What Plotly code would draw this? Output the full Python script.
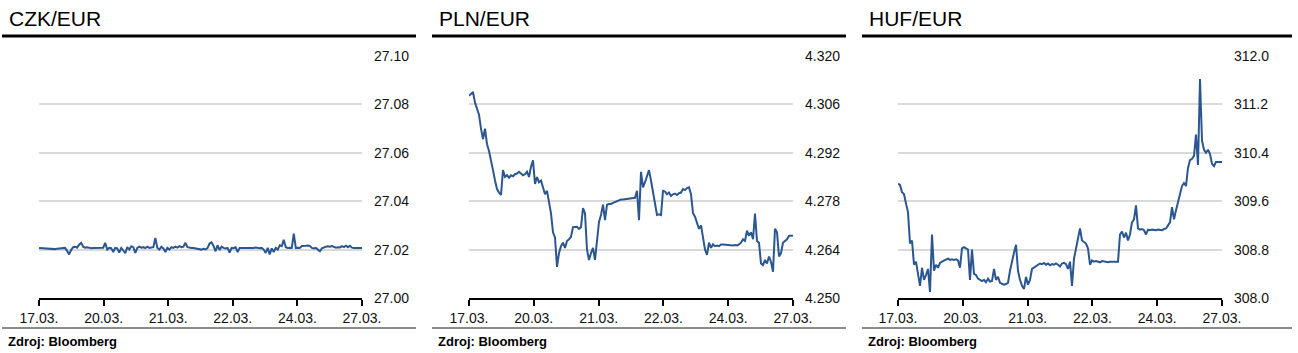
import plotly.graph_objects as go

FONT = "Liberation Sans, Arial, sans-serif"
LINE_COLOR = "#2b5790"

titles = ["CZK/EUR", "PLN/EUR", "HUF/EUR"]
source_text = "Zdroj: Bloomberg"
x_tick_labels = ["17.03.", "20.03.", "21.03.", "22.03.", "24.03.", "27.03."]

czk_values = [
    27.0207, 27.0206, 27.0205, 27.0204, 27.0203, 27.0202, 27.0201, 27.0203, 27.0202, 27.0204,
    27.0205, 27.0206, 27.0207, 27.0207, 27.0195, 27.0180, 27.0198, 27.0210, 27.0212, 27.0208,
    27.0220, 27.0228, 27.0212, 27.0208, 27.0210, 27.0207, 27.0206, 27.0207, 27.0207, 27.0207,
    27.0206, 27.0207, 27.0208, 27.0228, 27.0200, 27.0207, 27.0206, 27.0190, 27.0207, 27.0205,
    27.0188, 27.0207, 27.0195, 27.0185, 27.0210, 27.0200, 27.0214, 27.0210, 27.0186, 27.0207,
    27.0212, 27.0208, 27.0210, 27.0206, 27.0212, 27.0207, 27.0209, 27.0210, 27.0248, 27.0207,
    27.0200, 27.0212, 27.0205, 27.0190, 27.0207, 27.0200, 27.0210, 27.0207, 27.0212, 27.0208,
    27.0214, 27.0210, 27.0212, 27.0228, 27.0210, 27.0207, 27.0207, 27.0207, 27.0206, 27.0204,
    27.0202, 27.0200, 27.0203, 27.0201, 27.0206, 27.0225, 27.0230, 27.0215, 27.0193, 27.0218,
    27.0198, 27.0212, 27.0207, 27.0205, 27.0207, 27.0188, 27.0207, 27.0206, 27.0210, 27.0190,
    27.0207, 27.0207, 27.0208, 27.0206, 27.0207, 27.0207, 27.0205, 27.0207, 27.0209, 27.0207,
    27.0206, 27.0207, 27.0200, 27.0186, 27.0207, 27.0180, 27.0205, 27.0190, 27.0207, 27.0200,
    27.0218, 27.0214, 27.0241, 27.0210, 27.0207, 27.0208, 27.0207, 27.0266, 27.0207, 27.0208,
    27.0207, 27.0215, 27.0217, 27.0216, 27.0217, 27.0215, 27.0207, 27.0205, 27.0207, 27.0200,
    27.0193, 27.0205, 27.0210, 27.0212, 27.0214, 27.0212, 27.0215, 27.0210, 27.0208, 27.0210,
    27.0209, 27.0214, 27.0210, 27.0216, 27.0210, 27.0216, 27.0208, 27.0207, 27.0207, 27.0207,
    27.0207, 27.0207,
]

pln_values = [
    4.3085, 4.3090, 4.3096, 4.3065, 4.3050, 4.3030, 4.2990, 4.2960, 4.2990, 4.2945,
    4.2925, 4.2900, 4.2870, 4.2840, 4.2815, 4.2805, 4.2798, 4.2870, 4.2850, 4.2855,
    4.2848, 4.2855, 4.2852, 4.2858, 4.2860, 4.2865, 4.2860, 4.2855, 4.2858, 4.2865,
    4.2850, 4.2880, 4.2898, 4.2830, 4.2850, 4.2835, 4.2840, 4.2820, 4.2800, 4.2810,
    4.2780, 4.2745, 4.2690, 4.2675, 4.2590, 4.2630, 4.2650, 4.2660, 4.2645, 4.2665,
    4.2670, 4.2677, 4.2705, 4.2705, 4.2706, 4.2700, 4.2705, 4.2760, 4.2745, 4.2640,
    4.2610, 4.2630, 4.2645, 4.2610, 4.2660, 4.2720, 4.2740, 4.2770, 4.2725, 4.2770,
    4.2772, 4.2772, 4.2775, 4.2778, 4.2780, 4.2783, 4.2785, 4.2785, 4.2786, 4.2787,
    4.2787, 4.2788, 4.2788, 4.2790, 4.2810, 4.2725, 4.2865, 4.2820, 4.2835, 4.2850,
    4.2870, 4.2840, 4.2810, 4.2770, 4.2740, 4.2742, 4.2740, 4.2810, 4.2808, 4.2800,
    4.2805, 4.2795, 4.2800, 4.2802, 4.2798, 4.2803, 4.2805, 4.2815, 4.2812, 4.2818,
    4.2820, 4.2800, 4.2745, 4.2735, 4.2720, 4.2700, 4.2710, 4.2680, 4.2640, 4.2625,
    4.2660, 4.2645, 4.2655, 4.2650, 4.2652, 4.2650, 4.2655, 4.2655, 4.2654, 4.2653,
    4.2653, 4.2653, 4.2652, 4.2653, 4.2652, 4.2655, 4.2660, 4.2670, 4.2665, 4.2695,
    4.2680, 4.2690, 4.2670, 4.2744, 4.2665, 4.2660, 4.2600, 4.2595, 4.2610, 4.2600,
    4.2620, 4.2605, 4.2576, 4.2700, 4.2690, 4.2620, 4.2630, 4.2660, 4.2665, 4.2670,
    4.2680, 4.2680, 4.2680,
]

huf_values = [
    309.89, 309.87, 309.75, 309.72, 309.56, 309.42, 308.90, 308.95, 308.55, 308.60,
    308.40, 308.20, 308.50, 308.30, 308.38, 308.48, 308.10, 309.05, 308.45, 308.55,
    308.50, 308.58, 308.60, 308.62, 308.64, 308.65, 308.63, 308.64, 308.63, 308.64,
    308.62, 308.50, 308.82, 308.84, 308.82, 308.80, 308.30, 308.80, 308.40, 308.38,
    308.32, 308.30, 308.28, 308.30, 308.26, 308.32, 308.27, 308.28, 308.48, 308.30,
    308.35, 308.25, 308.24, 308.22, 308.23, 308.25, 308.45, 308.62, 308.75, 308.88,
    308.45, 308.30, 308.20, 308.15, 308.35, 308.22, 308.30, 308.48, 308.50, 308.52,
    308.55, 308.57, 308.56, 308.58, 308.55, 308.57, 308.54, 308.56, 308.55, 308.57,
    308.55, 308.52, 308.57, 308.58, 308.56, 308.48, 308.60, 308.20, 308.65, 308.82,
    308.98, 309.15, 308.95, 308.92, 308.90, 308.82, 308.55, 308.62, 308.60, 308.61,
    308.60, 308.59, 308.61, 308.60, 308.60, 308.59, 308.60, 308.60, 308.60, 308.60,
    308.60, 309.05, 309.10, 309.00, 309.08, 308.95, 309.05, 309.25, 309.30, 309.53,
    309.15, 309.13, 309.14, 309.12, 309.05, 309.13, 309.12, 309.13, 309.12, 309.12,
    309.13, 309.12, 309.12, 309.14, 309.15, 309.20, 309.25, 309.50, 309.30, 309.45,
    309.58, 309.75, 309.85, 309.90, 309.85, 310.15, 310.28, 310.30, 310.35, 310.70,
    310.20, 311.62, 310.60, 310.45, 310.40, 310.45, 310.38, 310.22, 310.18, 310.25,
    310.25, 310.25, 310.25,
]

czk_ticks = [27.00, 27.02, 27.04, 27.06, 27.08, 27.10]
czk_tick_text = ["27.00", "27.02", "27.04", "27.06", "27.08", "27.10"]
pln_ticks = [4.250, 4.264, 4.278, 4.292, 4.306, 4.320]
pln_tick_text = ["4.250", "4.264", "4.278", "4.292", "4.306", "4.320"]
huf_ticks = [308.0, 308.8, 309.6, 310.4, 311.2, 312.0]
huf_tick_text = ["308.0", "308.8", "309.6", "310.4", "311.2", "312.0"]

series = [czk_values, pln_values, huf_values]
yticks = [(czk_ticks, czk_tick_text), (pln_ticks, pln_tick_text), (huf_ticks, huf_tick_text)]

W, H = 1298, 353
plot_x = [(39, 362), (469, 793), (898, 1222)]
panel_x = [(2, 416), (432, 846), (862, 1292)]
plot_top, plot_bottom = 56, 298

fig = go.Figure()
for k in range(3):
    vals = series[k]
    n = len(vals)
    xs = list(range(n))
    suffix = "" if k == 0 else str(k + 1)
    fig.add_trace(go.Scatter(
        x=xs, y=vals, mode="lines", line=dict(color=LINE_COLOR, width=2),
        xaxis="x" + suffix, yaxis="y" + suffix, showlegend=False, hoverinfo="skip",
    ))
    tv, tt = yticks[k]
    x0, x1 = plot_x[k]
    fig.layout["xaxis" + suffix] = dict(
        domain=[x0 / W, x1 / W], range=[0, n - 1], anchor="y" + suffix,
        tickvals=[j * (n - 1) / 5 for j in range(6)], ticktext=x_tick_labels,
        showline=True, linecolor="black", linewidth=2,
        ticks="outside", ticklen=6, tickwidth=2, tickcolor="black",
        showgrid=False, zeroline=False, automargin=False,
        tickfont=dict(family=FONT, size=14, color="#111111"),
    )
    fig.layout["yaxis" + suffix] = dict(
        domain=[1 - plot_bottom / H, 1 - plot_top / H], range=[tv[0], tv[-1]],
        anchor="x" + suffix, side="right", tickvals=tv, ticktext=tt,
        showgrid=True, gridcolor="#d9d9d9", gridwidth=2, zeroline=False,
        showline=False, ticks="", ticklabelstandoff=11, automargin=False,
        tickfont=dict(family=FONT, size=14, color="#111111"),
    )

shapes = []
annotations = []
for k in range(3):
    px0, px1 = panel_x[k]
    shapes.append(dict(type="line", xref="paper", yref="paper",
                       x0=px0 / W, x1=px1 / W, y0=1 - 36 / H, y1=1 - 36 / H,
                       line=dict(color="black", width=3)))
    shapes.append(dict(type="line", xref="paper", yref="paper",
                       x0=px0 / W, x1=px1 / W, y0=1 - 328 / H, y1=1 - 328 / H,
                       line=dict(color="#8c8c8c", width=2)))
    annotations.append(dict(text=titles[k], xref="paper", yref="paper",
                            x=(px0 + 5) / W, y=1 - 18 / H, xanchor="left", yanchor="middle",
                            showarrow=False, font=dict(family=FONT, size=21, color="black")))
    annotations.append(dict(text="<b>" + source_text + "</b>", xref="paper", yref="paper",
                            x=(px0 + 4) / W, y=1 - 341 / H, xanchor="left", yanchor="middle",
                            showarrow=False, font=dict(family=FONT, size=13, color="black")))

fig.update_layout(
    width=W, height=H, margin=dict(l=0, r=0, t=0, b=0, autoexpand=False),
    paper_bgcolor="white", plot_bgcolor="white",
    shapes=shapes, annotations=annotations,
)

fig.write_html("out.html", config={"displayModeBar": False})
